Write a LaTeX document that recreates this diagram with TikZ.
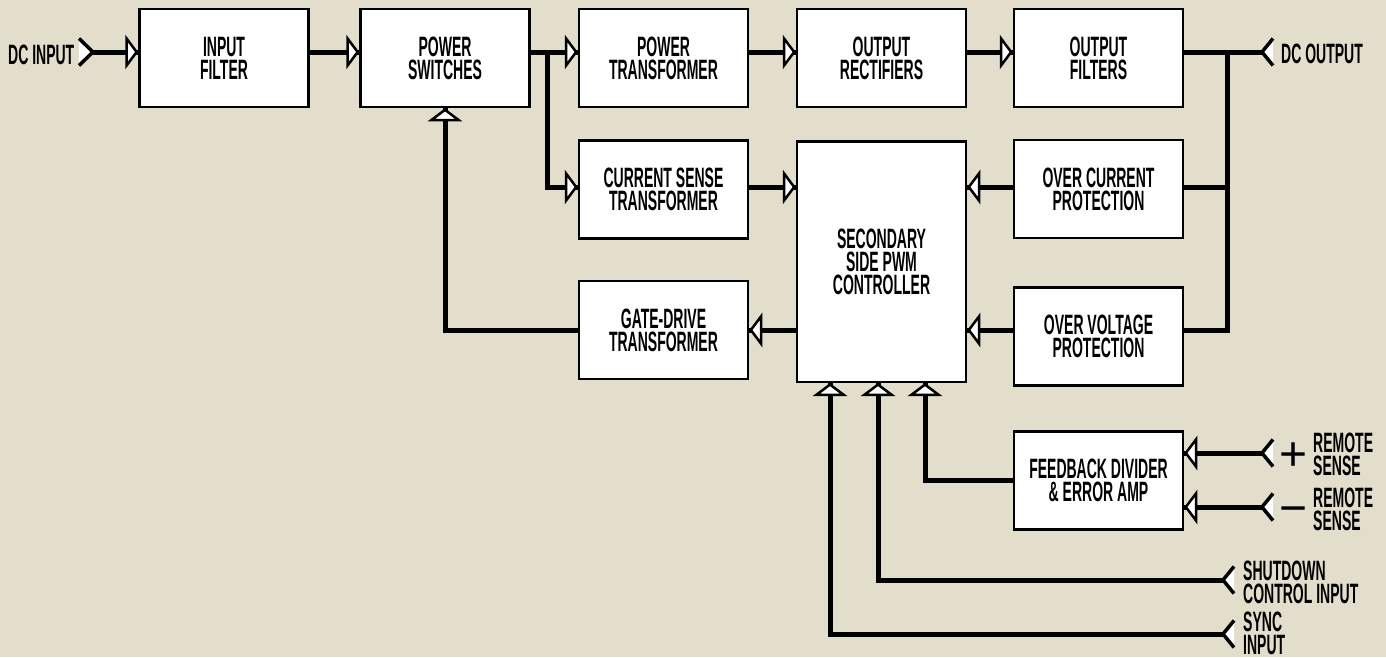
\documentclass[tikz,border=0pt]{standalone}
\usepackage{fontspec}
\newfontfamily\cond{Liberation Sans}[FakeStretch=0.50]
\newfontfamily\signfont{Liberation Sans}
\usetikzlibrary{arrows.meta}
\definecolor{bg}{RGB}{227,222,204}
\newcommand\dglbl{\cond\bfseries\fontsize{28}{23}\selectfont}
\tikzset{
  blk/.style={draw=black, line width=2.5pt, fill=white, minimum width=169pt,
    minimum height=98pt, inner sep=0pt, align=center, font=\dglbl},
  conn/.style={line width=5pt},
  lab/.style={inner sep=0pt, align=left, font=\dglbl, anchor=west},
  sign/.style={inner sep=0pt, anchor=base, font=\signfont\fontsize{48}{48}\selectfont},
  head/.style={fill=white, draw=black, line width=2.5pt, line join=miter},
  tipR/.pic={\path[head] (-1.6,0) -- (-11.75,13.6) -- (-11.75,-13.6) -- cycle;},
  tipL/.pic={\path[head] (1.6,0) -- (11.75,13.6) -- (11.75,-13.6) -- cycle;},
  tipU/.pic={\path[head] (0,1.6) -- (13.6,11.75) -- (-13.6,11.75) -- cycle;},
  chevL/.pic={\fill[white] (0,0)--(11,13.5)--(11,-13.5)--cycle;
    \draw[line width=3.5pt] (11,13.5)--(0,0)--(11,-13.5);},
  chevR/.pic={\fill[white] (0,0)--(-14,13.5)--(-14,-13.5)--cycle;
    \draw[line width=3.5pt] (-14,13.5)--(0,0)--(-14,-13.5);}
}
\begin{document}
\begin{tikzpicture}[x=1pt,y=-1pt]
\fill[bg] (0,0) rectangle (1386,657);
\useasboundingbox (0,0) rectangle (1386,657);
% blocks
\node[blk] (inf) at (224,58) {INPUT\\FILTER};
\node[blk] (psw) at (445,58) {POWER\\SWITCHES};
\node[blk] (ptr) at (663.5,58) {POWER\\TRANSFORMER};
\node[blk] (ore) at (881.5,58) {OUTPUT\\RECTIFIERS};
\node[blk] (ofi) at (1098.5,58) {OUTPUT\\FILTERS};
\node[blk] (cst) at (663.5,189.5) {CURRENT SENSE\\TRANSFORMER};
\node[blk, minimum height=240.5pt] (pwm) at (881.5,261.5) {SECONDARY\\SIDE PWM\\CONTROLLER};
\node[blk] (ocp) at (1098.5,189) {OVER CURRENT\\PROTECTION};
\node[blk] (ovp) at (1098.5,336.5) {OVER VOLTAGE\\PROTECTION};
\node[blk] (gdt) at (663.5,330) {GATE-DRIVE\\TRANSFORMER};
\node[blk] (fbd) at (1098.5,480.5) {FEEDBACK DIVIDER\\\& ERROR AMP};
% labels and terminals
\node[lab] (tin) at (8,54.5) {DC INPUT};
\coordinate (cin) at (93,52);
\node[lab] (tout) at (1281,54) {DC OUTPUT};
\coordinate (cout) at (1262,52);
\coordinate (crp) at (1262,453);
\coordinate (crm) at (1262,507);
\node[sign] (plus) at (1293.5,470) {+};
\node[sign] (minus) at (1293.5,524) {−};
\node[lab] (trp) at (1313,454) {REMOTE\\SENSE};
\node[lab] (trm) at (1313,509) {REMOTE\\SENSE};
\coordinate (csd) at (1223,580);
\node[lab] (tsd) at (1243,582) {SHUTDOWN\\CONTROL INPUT};
\coordinate (csy) at (1223,634);
\node[lab] (tsy) at (1243,633) {SYNC\\INPUT};
% line levels
\coordinate (L1) at (0,52);
\coordinate (L2) at (0,187);
\coordinate (L3) at (0,330);
\coordinate (br) at (547,52);
\coordinate (bus) at (1227,52);
\coordinate (pA) at ([xshift=-51.5pt]pwm.south);
\coordinate (pB) at ([xshift=-3.5pt]pwm.south);
\coordinate (pC) at ([xshift=43.5pt]pwm.south);
% connectors
\draw[conn] (cin) -- (inf.west|-L1);
\draw[conn] (inf.east|-L1) -- (psw.west|-L1);
\draw[conn] (psw.east|-L1) -- (ptr.west|-L1);
\draw[conn] (ptr.east|-L1) -- (ore.west|-L1);
\draw[conn] (ore.east|-L1) -- (ofi.west|-L1);
\draw[conn] (ofi.east|-L1) -- (cout);
\draw[conn] (br) |- (cst.west|-L2);
\draw[conn] (cst.east|-L2) -- (pwm.west|-L2);
\draw[conn] (bus) |- (ovp.east|-L3);
\draw[conn] (bus|-L2) -- (ocp.east|-L2);
\draw[conn] (ocp.west|-L2) -- (pwm.east|-L2);
\draw[conn] (ovp.west|-L3) -- (pwm.east|-L3);
\draw[conn] (pwm.west|-L3) -- (gdt.east|-L3);
\draw[conn] (gdt.west|-L3) -| (psw.south);
\draw[conn] (fbd.west) -| (pC);
\draw[conn] (csd) -| (pB);
\draw[conn] (csy) -| (pA);
\draw[conn] (crp) -- (fbd.east|-crp);
\draw[conn] (crm) -- (fbd.east|-crm);
% arrowheads
\pic at (inf.west|-L1) {tipR};
\pic at (psw.west|-L1) {tipR};
\pic at (ptr.west|-L1) {tipR};
\pic at (ore.west|-L1) {tipR};
\pic at (ofi.west|-L1) {tipR};
\pic at (cst.west|-L2) {tipR};
\pic at (pwm.west|-L2) {tipR};
\pic at (pwm.east|-L2) {tipL};
\pic at (pwm.east|-L3) {tipL};
\pic at (gdt.east|-L3) {tipL};
\pic at (psw.south) {tipU};
\pic at (pA) {tipU};
\pic at (pB) {tipU};
\pic at (pC) {tipU};
\pic at (fbd.east|-crp) {tipL};
\pic at (fbd.east|-crm) {tipL};
% chevrons
\pic at (cin) {chevR};
\pic at (cout) {chevL};
\pic at (crp) {chevL};
\pic at (crm) {chevL};
\pic at (csd) {chevL};
\pic at (csy) {chevL};
\end{tikzpicture}
\end{document}
